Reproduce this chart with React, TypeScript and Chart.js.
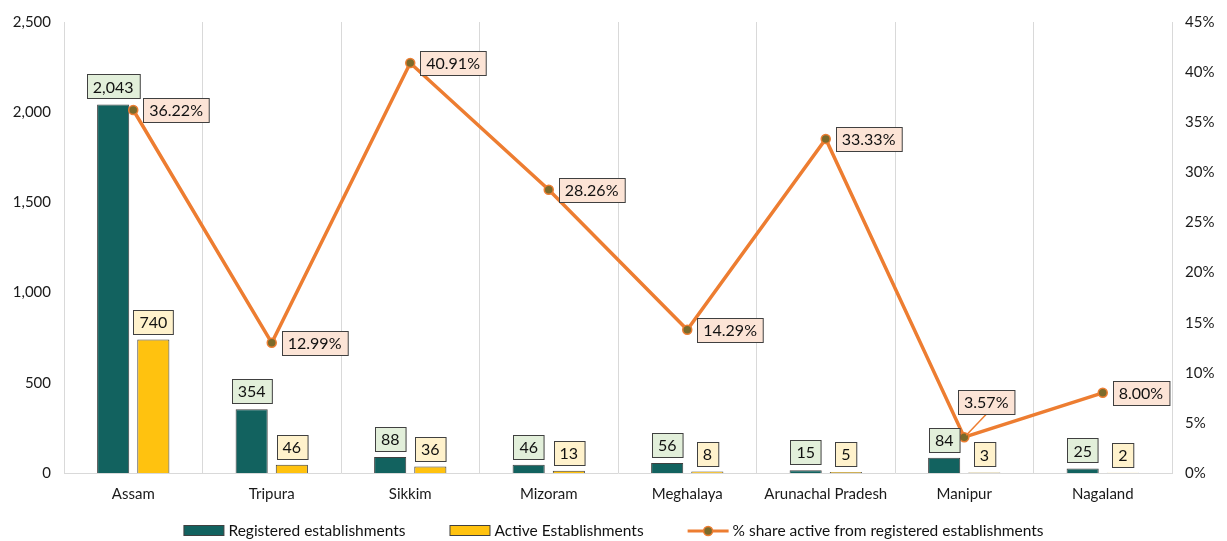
import React, { useEffect, useRef } from "react";
import { Chart, registerables } from "chart.js";

Chart.register(...registerables);

const categories = ["Assam", "Tripura", "Sikkim", "Mizoram", "Meghalaya", "Arunachal Pradesh", "Manipur", "Nagaland"];
const registered = [2043, 354, 88, 46, 56, 15, 84, 25];
const active = [740, 46, 36, 13, 8, 5, 3, 2];
const sharePct = [36.22, 12.99, 40.91, 28.26, 14.29, 33.33, 3.57, 8.0];
const seriesNames = ["Registered establishments", "Active Establishments", "% share active from registered establishments"];

const FONT = "Lato, 'Open Sans', sans-serif";
const TEAL = "#12625F";
const YELLOW = "#FFC20F";
const ORANGE = "#ED7D31";
const MARKER = "#7B6A2B";
const BORDER = "#404040";

const labelPlugin = {
  id: "boxLabels",
  afterDatasetsDraw(chart: any) {
    const ctx = chart.ctx;
    ctx.save();
    ctx.font = `16px ${FONT}`;
    ctx.textBaseline = "middle";
    ctx.textAlign = "center";
    const drawBox = (cx: number, cy: number, text: string, fill: string) => {
      const w = ctx.measureText(text).width + 12;
      const h = 24;
      const x = Math.round(cx - w / 2) + 0.5;
      const y = Math.round(cy - h / 2) + 0.5;
      ctx.fillStyle = fill;
      ctx.fillRect(x, y, w, h);
      ctx.strokeStyle = BORDER;
      ctx.lineWidth = 1;
      ctx.strokeRect(x, y, w, h);
      ctx.fillStyle = "#111";
      ctx.fillText(text, cx, cy + 1);
      return w;
    };
    const fills = ["#E2EFDA", "#FFF2CC"];
    [0, 1].forEach((di) => {
      const meta = chart.getDatasetMeta(di);
      const data = chart.data.datasets[di].data as number[];
      meta.data.forEach((el: any, i: number) => {
        const text = data[i].toLocaleString("en-US");
        drawBox(el.x, el.y - 6 - 12, text, fills[di]);
      });
    });
    const lmeta = chart.getDatasetMeta(2);
    const ldata = chart.data.datasets[2].data as number[];
    lmeta.data.forEach((el: any, i: number) => {
      const text = ldata[i].toFixed(2) + "%";
      const w = ctx.measureText(text).width + 12;
      if (i === 6) {
        const cx = el.x + 22;
        const cy = el.y - 23 - 12;
        ctx.strokeStyle = ORANGE;
        ctx.lineWidth = 1.5;
        ctx.beginPath();
        ctx.moveTo(cx, cy + 12);
        ctx.lineTo(el.x + 2, el.y - 2);
        ctx.stroke();
        drawBox(cx, cy, text, "#FCE4D6");
      } else {
        drawBox(el.x + 10 + w / 2, el.y, text, "#FCE4D6");
      }
    });
    ctx.restore();
  },
};

const legendPlugin = {
  id: "customLegend",
  afterDraw(chart: any) {
    const ctx = chart.ctx;
    ctx.save();
    ctx.font = `15.5px ${FONT}`;
    ctx.textBaseline = "middle";
    ctx.textAlign = "left";
    const markerW = 41;
    const gapText = 4;
    const gapItem = 44;
    const widths = seriesNames.map((n) => markerW + gapText + ctx.measureText(n).width);
    const total = widths.reduce((a, b) => a + b, 0) + gapItem * (seriesNames.length - 1);
    let x = chart.width / 2 - total / 2;
    const y = 531;
    seriesNames.forEach((name, i) => {
      if (i < 2) {
        ctx.fillStyle = i === 0 ? TEAL : YELLOW;
        ctx.fillRect(x + 0.5, y - 5.5, markerW - 1, 10);
        ctx.strokeStyle = BORDER;
        ctx.lineWidth = 1;
        ctx.strokeRect(x + 0.5, y - 5.5, markerW - 1, 10);
      } else {
        ctx.strokeStyle = ORANGE;
        ctx.lineWidth = 3;
        ctx.beginPath();
        ctx.moveTo(x, y);
        ctx.lineTo(x + markerW, y);
        ctx.stroke();
        ctx.beginPath();
        ctx.arc(x + markerW / 2, y, 4.5, 0, Math.PI * 2);
        ctx.fillStyle = MARKER;
        ctx.fill();
        ctx.lineWidth = 1.5;
        ctx.strokeStyle = ORANGE;
        ctx.stroke();
      }
      ctx.fillStyle = "#111";
      ctx.fillText(name, x + markerW + gapText, y);
      x += widths[i] + gapItem;
    });
    ctx.restore();
  },
};

export default function App() {
  const ref = useRef<HTMLCanvasElement>(null);
  useEffect(() => {
    if (!ref.current) return;
    const chart = new Chart(ref.current, {
      type: "bar",
      data: {
        labels: categories,
        datasets: [
          {
            type: "bar",
            label: seriesNames[0],
            data: registered,
            backgroundColor: TEAL,
            borderColor: BORDER,
            borderWidth: 1,
            yAxisID: "y",
            order: 2,
            barPercentage: 0.8,
            categoryPercentage: 0.58,
          },
          {
            type: "bar",
            label: seriesNames[1],
            data: active,
            backgroundColor: YELLOW,
            borderColor: BORDER,
            borderWidth: 1,
            yAxisID: "y",
            order: 3,
            barPercentage: 0.8,
            categoryPercentage: 0.58,
          },
          {
            type: "line",
            label: seriesNames[2],
            data: sharePct,
            borderColor: ORANGE,
            borderWidth: 3.5,
            pointRadius: 4.5,
            pointBackgroundColor: MARKER,
            pointBorderColor: ORANGE,
            pointBorderWidth: 1.5,
            yAxisID: "y1",
            order: 0,
            tension: 0,
          } as any,
        ],
      },
      options: {
        responsive: false,
        animation: false,
        devicePixelRatio: 1,
        layout: { padding: { top: 22, bottom: 0, left: 0, right: 0 } },
        plugins: {
          legend: { display: false },
          tooltip: { enabled: false },
        },
        scales: {
          x: {
            offset: true,
            grid: { display: true, color: "#D9D9D9", lineWidth: 1, offset: true, drawTicks: false },
            border: { display: true, color: "#D9D9D9" },
            ticks: { color: "#1a1a1a", font: { family: FONT, size: 15 }, padding: 12, autoSkip: false, maxRotation: 0 },
            afterFit: (s: any) => {
              s.height = 68;
            },
          },
          y: {
            position: "left",
            min: 0,
            max: 2500,
            grid: { display: false, drawTicks: false },
            border: { display: true, color: "#D9D9D9" },
            ticks: {
              stepSize: 500,
              color: "#1a1a1a",
              font: { family: FONT, size: 15 },
              padding: 13,
              callback: (v: any) => Number(v).toLocaleString("en-US"),
            },
            afterFit: (s: any) => {
              s.width = 64;
            },
          },
          y1: {
            position: "right",
            min: 0,
            max: 45,
            grid: { display: false, drawTicks: false },
            border: { display: true, color: "#D9D9D9" },
            ticks: {
              stepSize: 5,
              color: "#1a1a1a",
              font: { family: FONT, size: 15 },
              padding: 13,
              callback: (v: any) => v + "%",
            },
            afterFit: (s: any) => {
              s.width = 55;
            },
          },
        },
      },
      plugins: [labelPlugin, legendPlugin],
    });
    return () => chart.destroy();
  }, []);
  return (
    <div style={{ position: "fixed", left: 0, top: 0, width: 1227, height: 541, background: "#fff" }}>
      <canvas ref={ref} width={1227} height={541} style={{ display: "block" }} />
    </div>
  );
}
